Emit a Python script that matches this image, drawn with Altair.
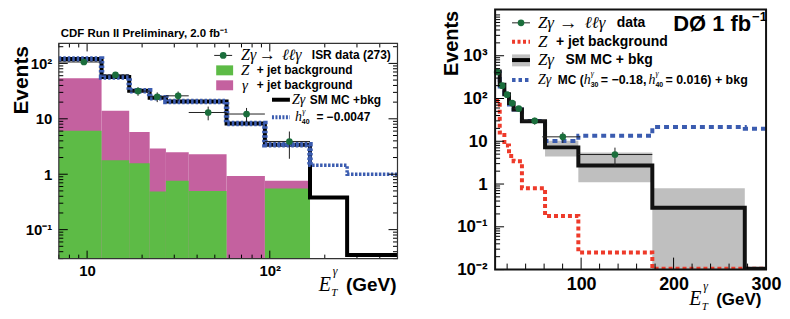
import altair as alt
import pandas as pd

SANS = "Liberation Sans, Arial, Helvetica, sans-serif"
SERIF = "Liberation Serif, Times New Roman, DejaVu Serif, serif"
MAG = "#c4619f"
GRN = "#5dbb46"
DGRN = "#1b6e3c"
BLUE = "#3b5cb0"
RED = "#ee3a2a"
GRAY = "#bfbfbf"

# ---------------- CDF (left) ----------------
cdf_edges = [7, 12, 17, 22, 27, 36, 58, 94, 166, 265, 500]
cdf_sm_mc = [120, 57, 32, 24, 20.5, 20.5, 8.2, 3.4, 0.38, 0.035]
cdf_h40 = [120, 57, 32, 24, 20.5, 20.5, 8.2, 3.4, 1.45, 1.0]
cdf_bkg_total = [54, 14, 5.8, 2.9, 2.5, 2.3, 0.93, 0.76]
cdf_zjet = [6.1, 1.79, 1.58, 0.49, 0.76, 0.5, 0.0, 0.55]
cdf_data_x = [9.6, 14.3, 19.0, 24.2, 31.5, 46.0, 74.6, 128.0]
cdf_data_y = [106, 62, 31.6, 25, 26, 13, 12.2, 3.9]
cdf_data_err = [10.3, 7.9, 5.6, 5.0, 5.1, 3.6, 3.5, 2.0]

# ---------------- D0 (right) ----------------
d0_edges = [7, 12, 17, 22, 27, 36, 61, 97, 177, 277, 300]
d0_sm_mc = [430, 210, 125, 78, 55, 29.5, 7.2, 2.7, 0.28, 0.0105]
d0_zjet = [90, 16, 8, 4.5, 3.4, 0.8, 0.18, 0.025, 0.0105, 0.0105]
d0_atgc = [400, 190, 115, 72, 55, 30, 10.2, 13.4, 21.6, 19.7]
d0_band_x0 = [61, 97, 177]
d0_band_x1 = [97, 177, 277]
d0_band_low = [4.4, 1.1, 0.0101]
d0_band_high = [10.3, 5.5, 0.8]
d0_data_x = [9.2, 14.6, 20.0, 25.4, 32.6, 49.8, 80.2, 136.6]
d0_data_y = [417, 200, 123, 78, 58, 30, 12.7, 4.9]
d0_data_err = [20, 14, 11, 8.8, 7.6, 5.5, 3.6, 2.2]
d0_data_xlo = [7, 12, 17, 22, 27, 36, 58, 97]
d0_data_xhi = [12, 17, 22, 27, 36, 61, 99, 177]

dummy = pd.DataFrame({"d": [0]})


def T(s, x, y, size=12, bold=True, italic=False, serif=False, align="left",
      baseline="middle", color="black", angle=0, opacity=1):
    kw = dict(text=s, fontSize=size, fontWeight="bold" if bold else "normal",
              fontStyle="italic" if italic else "normal",
              font=SERIF if serif else SANS, align=align, baseline=baseline,
              color=color, opacity=opacity)
    if angle:
        kw["angle"] = angle
    return alt.Chart(dummy).mark_text(**kw).encode(x=alt.value(x), y=alt.value(y))


def M(s, x, y, size=16):
    """italic serif math text"""
    return T(s, x, y, size=size, bold=False, italic=True, serif=True)


def hline(x0, x1, y, color="black", width=1, dash=None):
    kw = dict(color=color, strokeWidth=width)
    if dash:
        kw["strokeDash"] = dash
    return alt.Chart(dummy).mark_rule(**kw).encode(
        x=alt.value(x0), x2=alt.value(x1), y=alt.value(y))


def box(x0, x1, y0, y1, color):
    return alt.Chart(dummy).mark_rect(color=color).encode(
        x=alt.value(x0), x2=alt.value(x1), y=alt.value(y0), y2=alt.value(y1))


def frame(x0, x1, y0, y1, color, width):
    return alt.Chart(dummy).mark_rect(fillOpacity=0, stroke=color, strokeWidth=width).encode(
        x=alt.value(x0), x2=alt.value(x1), y=alt.value(y0), y2=alt.value(y1))


def dot(x, y):
    return alt.Chart(dummy).mark_circle(color=DGRN, size=45, opacity=1).encode(
        x=alt.value(x), y=alt.value(y))


def steps(edges, vals):
    return pd.DataFrame({"x": edges, "y": list(vals) + [vals[-1]]})


def minor_log(lo, hi):
    out = []
    for e in range(-3, 5):
        for k in range(2, 10):
            v = k * 10.0 ** e
            if lo <= v <= hi:
                out.append(v)
    return out


def yticks(vals, scale, axis, x0, x1, width=1):
    df = pd.DataFrame({"v": vals})
    return alt.Chart(df).mark_rule(color="black", strokeWidth=width).encode(
        y=alt.Y("v:Q", scale=scale, axis=axis), x=alt.value(x0), x2=alt.value(x1))


def xticks(vals, scale, axis, y0, y1, width=1):
    df = pd.DataFrame({"v": vals})
    return alt.Chart(df).mark_rule(color="black", strokeWidth=width).encode(
        x=alt.X("v:Q", scale=scale, axis=axis), y=alt.value(y0), y2=alt.value(y1))


# ======================= LEFT PANEL =======================
WL, HL, OY = 340, 216, 34          # plot area starts OY px below the panel top
xsL = alt.Scale(type="log", domain=[7, 500], nice=False)
ysL = alt.Scale(type="log", domain=[0.03, 229], nice=False, range=[OY + HL, OY])
axL_x = alt.Axis(values=[10, 100], labelExpr="datum.value > 50 ? '10²' : '10'",
                 ticks=False, domain=False, grid=False, labelFont=SANS,
                 labelFontWeight="bold", labelFontSize=15, labelColor="black",
                 labelPadding=5, labelFlush=False, title=None)
axL_y = alt.Axis(values=[0.1, 1, 10, 100],
                 labelExpr="datum.value > 50 ? '10²' : datum.value > 5 ? '10' : datum.value > 0.5 ? '1' : '10⁻¹'",
                 ticks=False, domain=False, grid=False, labelFont=SANS,
                 labelFontWeight="bold", labelFontSize=15, labelColor="black",
                 labelPadding=7, title=None)

nb = len(cdf_bkg_total)
df_bkg = pd.DataFrame({"lo": cdf_edges[:nb], "hi": cdf_edges[1:nb + 1],
                       "top": cdf_bkg_total, "base": [0.03] * nb})
df_zj = pd.DataFrame({"lo": cdf_edges[:nb], "hi": cdf_edges[1:nb + 1],
                      "top": cdf_zjet, "base": [0.03] * nb})
df_zj = df_zj[df_zj["top"] > 0]
df_cdf = pd.DataFrame({"x": cdf_data_x, "y": cdf_data_y,
                       "lo": [y - e for y, e in zip(cdf_data_y, cdf_data_err)],
                       "hi": [y + e for y, e in zip(cdf_data_y, cdf_data_err)],
                       "xlo": cdf_edges[:8], "xhi": cdf_edges[1:9]})
h40_all = steps(cdf_edges, cdf_h40)
h40_overlap = h40_all[h40_all["x"] <= 166]          # where it coincides with SM MC
h40_tail = h40_all[h40_all["x"] >= 94]               # where it departs from it

XL = lambda f: alt.X(f, scale=xsL, axis=axL_x)
YL = lambda f: alt.Y(f, scale=ysL, axis=axL_y)
o = OY

left_layers = [
    alt.Chart(df_bkg).mark_rect(color=MAG, clip=True).encode(x=XL("lo:Q"), x2="hi:Q", y=YL("top:Q"), y2="base:Q"),
    alt.Chart(df_zj).mark_rect(color=GRN, clip=True).encode(x=XL("lo:Q"), x2="hi:Q", y=YL("top:Q"), y2="base:Q"),
    alt.Chart(steps(cdf_edges, cdf_sm_mc)).mark_line(color="black", strokeWidth=4, interpolate="step-after", clip=True).encode(x=XL("x:Q"), y=YL("y:Q")),
    alt.Chart(h40_tail).mark_line(color=BLUE, strokeWidth=3.5, strokeDash=[2.5, 1.5], interpolate="step-after", clip=True).encode(x=XL("x:Q"), y=YL("y:Q")),
    alt.Chart(h40_overlap).mark_line(color=BLUE, strokeWidth=5.5, strokeDash=[2.5, 2], interpolate="step-after", clip=True).encode(x=XL("x:Q"), y=YL("y:Q")),
    alt.Chart(df_cdf).mark_rule(color="#222222", strokeWidth=1).encode(x=XL("x:Q"), y=YL("lo:Q"), y2="hi:Q"),
    alt.Chart(df_cdf).mark_rule(color="#222222", strokeWidth=1).encode(x=XL("xlo:Q"), x2="xhi:Q", y=YL("y:Q")),
    alt.Chart(df_cdf).mark_circle(color=DGRN, size=45, opacity=1).encode(x=XL("x:Q"), y=YL("y:Q")),
    # ticks
    yticks([0.1, 1, 10, 100], ysL, axL_y, 0, 9),
    yticks(minor_log(0.03, 229), ysL, axL_y, 0, 4.5),
    yticks([0.1, 1, 10, 100], ysL, axL_y, WL, WL - 9),
    yticks(minor_log(0.03, 229), ysL, axL_y, WL, WL - 4.5),
    xticks([10, 100], xsL, axL_x, o + HL, o + HL - 8),
    xticks(minor_log(7, 500), xsL, axL_x, o + HL, o + HL - 4),
    xticks([10, 100], xsL, axL_x, o, o + 8),
    xticks(minor_log(7, 500), xsL, axL_x, o, o + 4),
    frame(0, WL, o, o + HL, "#333333", 1.2),
    # left spacer (keeps room for the rotated title)
    T(".", -51, o + 37, size=6, opacity=0),
    # title
    T("CDF Run II Preliminary, 2.0 fb⁻¹", 2, o - 6, size=11.5, baseline="alphabetic"),
    T("Events", -37, o + 37, size=21, angle=270, align="center"),
    # legend
    hline(156, 174, o + 12, "#222222", 1),
    dot(165, o + 12),
    M("Zγ", 183, o + 12, 16),
    T("→", 201, o + 12, size=17, bold=False, serif=True),
    M("ℓℓγ", 224, o + 12, 16),
    T("ISR data (273)", 254, o + 12, size=12),
    box(158, 175, o + 22, o + 32, GRN),
    M("Z", 183, o + 27, 15),
    T("+ jet background", 198.7, o + 27, size=12),
    box(158, 175, o + 37, o + 47, MAG),
    M("γ", 184, o + 41.5, 15),
    T("+ jet background", 198.7, o + 41.5, size=12),
    hline(214, 232, o + 56.5, "black", 4),
    M("Zγ", 234, o + 56.5, 14),
    T("SM MC +bkg", 252, o + 56.5, size=12),
    hline(214, 232, o + 74, BLUE, 4, [2, 1.5]),
    M("h", 237, o + 74, 14),
    T("γ", 244.5, o + 68.5, size=8, bold=False, italic=True, serif=True),
    T("40", 244, o + 79, size=7),
    T("= −0.0047", 258.7, o + 74, size=12),
    # x title
    T("E", 261, o + 249, size=20, bold=False, italic=True, serif=True, baseline="alphabetic"),
    T("γ", 275, o + 228, size=12, bold=False, italic=True, serif=True),
    T("T", 273.5, o + 251, size=11, bold=False, italic=True, serif=True),
    T("(GeV)", 339, o + 249, size=19, align="right", baseline="alphabetic"),
]
left = alt.layer(*left_layers).properties(width=WL, height=OY + HL)

# ======================= RIGHT PANEL =======================
WR, HR = 272, 261
xsR = alt.Scale(type="linear", domain=[7, 300], nice=False, zero=False)
ysR = alt.Scale(type="log", domain=[0.01, 12000], nice=False)
axR_x = alt.Axis(values=[100, 200, 300], ticks=False, domain=False, grid=False,
                 labelFont=SANS, labelFontWeight="bold", labelFontSize=18,
                 labelColor="black", labelPadding=6, labelFlush=False, title=None)
axR_y = alt.Axis(values=[0.01, 0.1, 1, 10, 100, 1000],
                 labelExpr="datum.value > 500 ? '10³' : datum.value > 50 ? '10²' : datum.value > 5 ? '10' : datum.value > 0.5 ? '1' : datum.value > 0.05 ? '10⁻¹' : '10⁻²'",
                 ticks=False, domain=False, grid=False, labelFont=SANS,
                 labelFontWeight="bold", labelFontSize=17, labelColor="black",
                 labelPadding=8, title=None)
XR = lambda f: alt.X(f, scale=xsR, axis=axR_x)
YR = lambda f: alt.Y(f, scale=ysR, axis=axR_y)

df_band = pd.DataFrame({"x0": d0_band_x0, "x1": d0_band_x1, "lo": d0_band_low, "hi": d0_band_high})
df_d0 = pd.DataFrame({"x": d0_data_x, "y": d0_data_y,
                      "lo": [y - e for y, e in zip(d0_data_y, d0_data_err)],
                      "hi": [y + e for y, e in zip(d0_data_y, d0_data_err)],
                      "xlo": d0_data_xlo, "xhi": d0_data_xhi})

minor_x_r = [v for v in range(20, 300, 20) if v not in (100, 200)]

right_layers = [
    alt.Chart(df_band).mark_rect(color=GRAY, clip=True).encode(x=XR("x0:Q"), x2="x1:Q", y=YR("lo:Q"), y2="hi:Q"),
    alt.Chart(steps(d0_edges, d0_zjet)).mark_line(color=RED, strokeWidth=4, strokeDash=[4, 3], interpolate="step-after", clip=True).encode(x=XR("x:Q"), y=YR("y:Q")),
    alt.Chart(steps(d0_edges, d0_atgc)).mark_line(color=BLUE, strokeWidth=4, strokeDash=[5, 4], interpolate="step-after", clip=True).encode(x=XR("x:Q"), y=YR("y:Q")),
    alt.Chart(steps(d0_edges, d0_sm_mc)).mark_line(color="#111111", strokeWidth=4, interpolate="step-after", clip=True).encode(x=XR("x:Q"), y=YR("y:Q")),
    alt.Chart(df_d0).mark_rule(color="#222222", strokeWidth=1).encode(x=XR("x:Q"), y=YR("lo:Q"), y2="hi:Q"),
    alt.Chart(df_d0).mark_rule(color="#222222", strokeWidth=1).encode(x=XR("xlo:Q"), x2="xhi:Q", y=YR("y:Q")),
    alt.Chart(df_d0).mark_circle(color=DGRN, size=45, opacity=1).encode(x=XR("x:Q"), y=YR("y:Q")),
    yticks([0.01, 0.1, 1, 10, 100, 1000], ysR, axR_y, 0, 9),
    yticks(minor_log(0.01, 12000), ysR, axR_y, 0, 5),
    xticks([100, 200], xsR, axR_x, HR, HR - 12),
    xticks(minor_x_r, xsR, axR_x, HR, HR - 6),
    frame(0, WR, 0, HR, "#111111", 2),
    T("Events", -43, 34, size=20, angle=270, align="center"),
    T("DØ 1 fb", 257, 14, size=22, align="right"),
    T("−1", 258, 7, size=13),
    # legend
    hline(17, 35, 13.3, "#222222", 1),
    dot(26, 13.3),
    M("Zγ", 43, 13.3, 17),
    T("→", 64, 13.3, size=19, bold=False, serif=True),
    M("ℓℓγ", 90, 13.3, 17),
    T("data", 122, 13.3, size=14),
    hline(17, 35, 32.3, RED, 4, [3, 2.5]),
    M("Z", 43, 32.3, 17),
    T("+ jet background", 61, 32.3, size=14),
    box(17, 35, 45, 57, GRAY),
    hline(17, 35, 50.7, "black", 4),
    M("Zγ", 43, 50.7, 17),
    T("SM MC + bkg", 70.7, 50.7, size=14),
    hline(17, 35, 70.7, BLUE, 4, [3.5, 3]),
    M("Zγ", 43, 70.7, 14),
    T("MC (", 63, 70.7, size=12),
    M("h", 89, 70.7, 14),
    T("γ", 96, 65, size=8, bold=False, italic=True, serif=True),
    T("30", 96, 76, size=7),
    T("= −0.18,", 106, 70.7, size=12.5),
    M("h", 154, 70.7, 14),
    T("γ", 161, 65, size=8, bold=False, italic=True, serif=True),
    T("40", 161, 76, size=7),
    T("= 0.016) + bkg", 171, 70.7, size=12.5),
    # x title
    T("E", 195, 296.5, size=20, bold=False, italic=True, serif=True, baseline="alphabetic"),
    T("γ", 209, 277, size=12, bold=False, italic=True, serif=True),
    T("T", 207.5, 298.5, size=11, bold=False, italic=True, serif=True),
    T("(GeV)", 267.3, 297, size=17, align="right", baseline="alphabetic"),
]
right = alt.layer(*right_layers).properties(width=WR, height=HR)

chart = alt.hconcat(left, right, spacing=44).properties(
    padding=0, background="white").configure_view(strokeWidth=0)

chart.save("out.html", embed_options={"renderer": "svg", "actions": False})
